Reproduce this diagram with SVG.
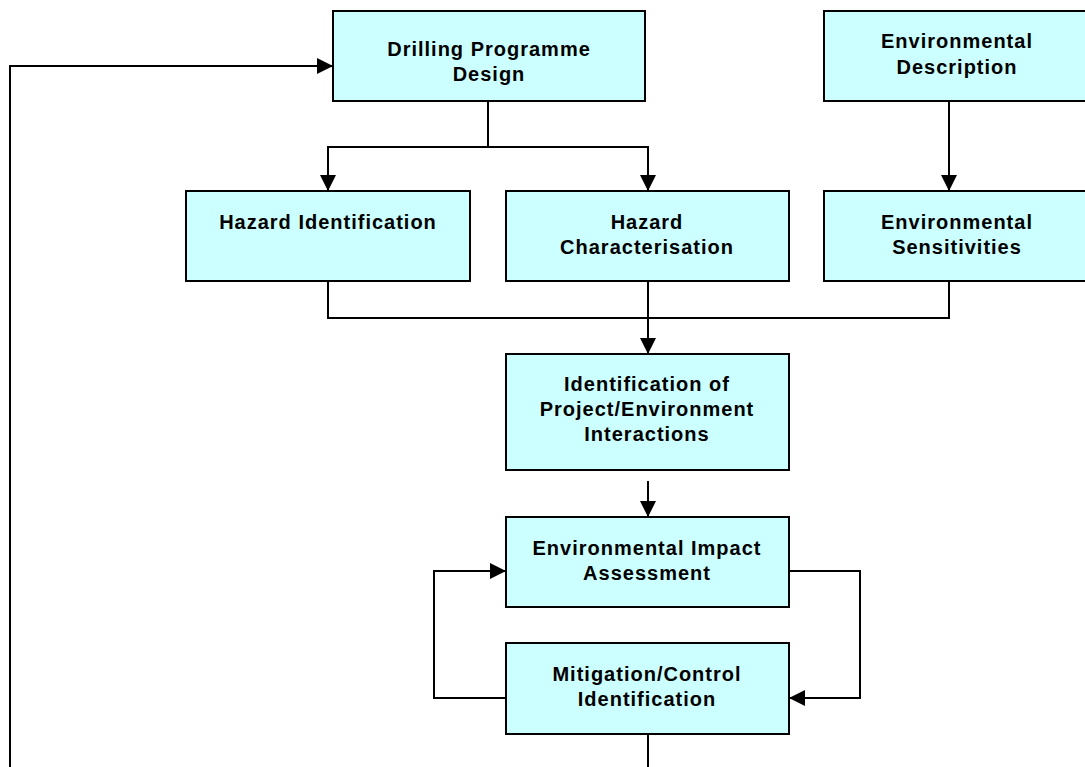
<svg xmlns="http://www.w3.org/2000/svg" width="1085" height="767" viewBox="0 0 1085 767">
<defs>
<style>
.box{fill:#CCFFFF;stroke:#000;stroke-width:2}
.t{font-family:"Liberation Sans",Arial,sans-serif;font-weight:bold;font-size:20px;letter-spacing:1px;text-anchor:middle;fill:#000}
.c{fill:none;stroke:#000;stroke-width:2}
</style>
<marker id="ah" viewBox="0 0 16 16" refX="16" refY="8" markerWidth="16" markerHeight="16" markerUnits="userSpaceOnUse" orient="auto">
<path d="M0,0 L16,8 L0,16 Z" fill="#000"/>
</marker>
</defs>
<rect width="1085" height="767" fill="#fff"/>
<g id="connectors">
<polyline class="c" points="10,767 10,66 333,66" marker-end="url(#ah)"/>
<polyline class="c" points="488,101 488,147 328,147 328,191" marker-end="url(#ah)"/>
<polyline class="c" points="488,147 648,147 648,191" marker-end="url(#ah)"/>
<line class="c" x1="949" y1="101" x2="949" y2="191" marker-end="url(#ah)"/>
<polyline class="c" points="328,281 328,318 949,318 949,281"/>
<line class="c" x1="648" y1="281" x2="648" y2="354" marker-end="url(#ah)"/>
<line class="c" x1="648" y1="481" x2="648" y2="517" marker-end="url(#ah)"/>
<polyline class="c" points="789,571 860,571 860,698 789,698" marker-end="url(#ah)"/>
<polyline class="c" points="506,698 434,698 434,571 506,571" marker-end="url(#ah)"/>
<line class="c" x1="648" y1="734" x2="648" y2="767"/>
</g>
<g id="drilling">
<rect class="box" x="333" y="11" width="312" height="90"/>
<text class="t" x="489" y="56">Drilling Programme</text>
<text class="t" x="489" y="81">Design</text>
</g>
<g id="envdesc">
<rect class="box" x="824" y="11" width="270" height="90"/>
<text class="t" x="957" y="48">Environmental</text>
<text class="t" x="957" y="74">Description</text>
</g>
<g id="hazid">
<rect class="box" x="186" y="191" width="284" height="90"/>
<text class="t" x="328" y="229">Hazard Identification</text>
</g>
<g id="hazchar">
<rect class="box" x="506" y="191" width="283" height="90"/>
<text class="t" x="647" y="229">Hazard</text>
<text class="t" x="647" y="254">Characterisation</text>
</g>
<g id="envsens">
<rect class="box" x="824" y="191" width="270" height="90"/>
<text class="t" x="957" y="229">Environmental</text>
<text class="t" x="957" y="254">Sensitivities</text>
</g>
<g id="interactions">
<rect class="box" x="506" y="354" width="283" height="116"/>
<text class="t" x="647" y="391">Identification of</text>
<text class="t" x="647" y="416">Project/Environment</text>
<text class="t" x="647" y="441">Interactions</text>
</g>
<g id="eia">
<rect class="box" x="506" y="517" width="283" height="90"/>
<text class="t" x="647" y="555">Environmental Impact</text>
<text class="t" x="647" y="580">Assessment</text>
</g>
<g id="mitigation">
<rect class="box" x="506" y="643" width="283" height="91"/>
<text class="t" x="647" y="681">Mitigation/Control</text>
<text class="t" x="647" y="706">Identification</text>
</g>
</svg>
